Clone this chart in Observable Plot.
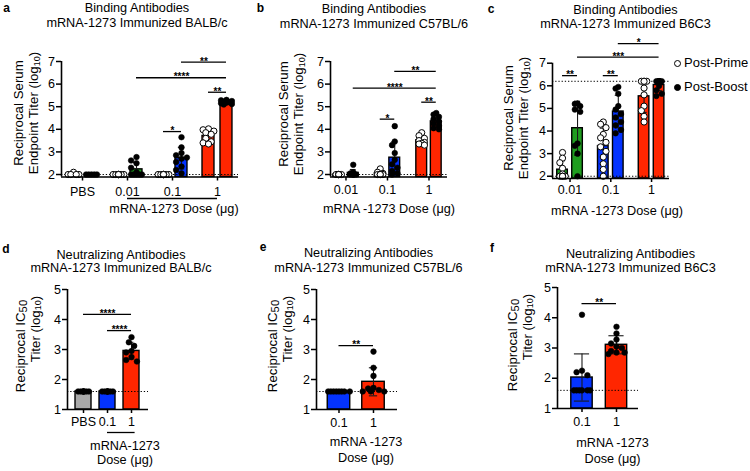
<!DOCTYPE html>
<html>
<head>
<meta charset="utf-8">
<script src="https://cdn.jsdelivr.net/npm/d3@7"></script>
<script src="https://cdn.jsdelivr.net/npm/@observablehq/plot@0.6"></script>
<style>
  html, body { margin: 0; padding: 0; background: #fff; }
  #fig { position: relative; width: 750px; height: 471px; background: #fff;
         font-family: "Liberation Sans", Arial, sans-serif; color: #000; overflow: hidden; }
  #fig div.t { position: absolute; white-space: nowrap; text-align: center; }
  .sub { font-size: 0.68em; vertical-align: -0.22em; line-height: 0; }
  .sub50 { font-size: 0.85em; vertical-align: -0.25em; line-height: 0; }
</style>
</head>
<body>
<div id="fig"></div>
<script>
// ---------------- DATA (log10 titers) ----------------
// Panel a: Binding antibodies, BALB/c
const aDoses = ["PBS", "0.01", "0.1", "1"];
const aPrime = [
  [2.1, 2.0, 2.0, 2.0, 2.0],
  [2.0, 2.0, 2.0, 2.0, 2.0, 2.0, 2.0, 2.0, 2.0, 2.0],
  [2.0, 2.0, 2.0, 2.0, 2.0, 2.0, 2.0, 2.0, 2.0, 2.0],
  [4.02, 3.98, 3.92, 3.85, 3.78, 3.6, 3.45, 3.4, 3.35]
];
const aBoost = [
  [2.0, 2.0, 2.0, 2.0, 2.0],
  [2.77, 2.62, 2.5, 2.3, 2.1, 2.0, 2.0, 2.0, 2.0, 2.0],
  [3.65, 3.2, 2.95, 2.85, 2.75, 2.7, 2.55, 2.35, 2.2, 2.05],
  [5.3, 5.28, 5.25, 5.22, 5.2, 5.18, 5.15, 5.12, 5.1]
];
const aSig = [
  { from: [2, "boost"], to: [3, "boost"], y: 6.97, p: "**" },
  { from: [1, "boost"], to: [3, "boost"], y: 6.28, p: "****" },
  { from: [3, "prime"], to: [3, "boost"], y: 5.64, p: "**" },
  { from: [2, "prime"], to: [2, "boost"], y: 3.9, p: "*" }
];

// Panel b: Binding antibodies, C57BL/6
const bDoses = ["0.01", "0.1", "1"];
const bPrime = [
  [2.0, 2.0, 2.0, 2.0, 2.0, 2.0, 2.0, 2.0],
  [2.25, 2.1, 2.05, 2.0, 2.0, 2.0, 2.0, 2.0],
  [3.85, 3.72, 3.6, 3.5, 3.42, 3.38, 3.35, 3.3]
];
const bBoost = [
  [2.43, 2.1, 2.05, 2.0, 2.0, 2.0, 2.0, 2.0],
  [4.14, 3.46, 3.3, 2.95, 2.65, 2.45, 2.3, 2.15, 2.05, 2.0],
  [4.72, 4.65, 4.55, 4.45, 4.35, 4.25, 4.15, 4.05, 4.0]
];
const bSig = [
  { from: [1, "boost"], to: [2, "boost"], y: 6.56, p: "**" },
  { from: [0, "boost"], to: [2, "boost"], y: 5.82, p: "****" },
  { from: [2, "prime"], to: [2, "boost"], y: 5.2, p: "**" },
  { from: [1, "prime"], to: [1, "boost"], y: 4.45, p: "*" }
];

// Panel c: Binding antibodies, B6C3
const cDoses = ["0.01", "0.1", "1"];
const cPrime = [
  [3.05, 2.8, 2.6, 2.35, 2.1, 2.0, 2.0, 2.0, 2.0, 2.0],
  [4.4, 4.3, 4.15, 3.85, 3.7, 3.5, 3.3, 3.1, 2.85, 2.55, 2.3, 2.0],
  [6.2, 6.2, 6.2, 6.2, 5.9, 5.6, 5.1, 4.9, 4.65, 4.4]
];
const cBoost = [
  [5.22, 5.2, 5.1, 4.95, 4.85, 3.45, 3.35, 3.0, 2.0],
  [5.95, 5.88, 5.65, 5.1, 4.95, 4.75, 4.6, 4.4, 4.25, 4.05, 3.9],
  [6.2, 6.2, 6.2, 6.2, 6.2, 6.2, 6.2, 6.0, 5.8, 5.65, 5.55]
];
const cSig = [
  { from: [1, "boost"], to: [2, "boost"], y: 7.87, p: "*" },
  { from: [0, "boost"], to: [2, "boost"], y: 7.27, p: "***" },
  { from: [0, "prime"], to: [0, "boost"], y: 6.45, p: "**" },
  { from: [1, "prime"], to: [1, "boost"], y: 6.45, p: "**" }
];

// Panels d-f: Neutralizing antibodies (reciprocal IC50, log10)
const dDoses = ["PBS", "0.1", "1"];
const dValues = [
  [1.6, 1.6, 1.6, 1.6, 1.6, 1.6, 1.6, 1.6],
  [1.6, 1.6, 1.6, 1.6, 1.6, 1.6, 1.6, 1.6],
  [3.41, 3.24, 3.12, 2.95, 2.9, 2.75, 2.65, 2.6]
];
const dSig = [
  { from: [0, "value"], to: [2, "value"], y: 4.17, p: "****" },
  { from: [1, "value"], to: [2, "value"], y: 3.63, p: "****" }
];

const eDoses = ["0.1", "1"];
const eValues = [
  [1.6, 1.6, 1.6, 1.6, 1.6, 1.6, 1.6, 1.6],
  [2.93, 2.39, 2.12, 1.72, 1.7, 1.65, 1.6, 1.6, 1.6]
];
const eSig = [{ from: [0, "value"], to: [1, "value"], y: 3.13, p: "**" }];

const fDoses = ["0.1", "1"];
const fValues = [
  [4.1, 2.25, 2.2, 2.1, 1.6, 1.6, 1.6, 1.6, 1.6, 1.6],
  [3.7, 3.48, 3.28, 3.15, 3.05, 3.0, 2.9, 2.85, 2.85, 2.8]
];
const fSig = [{ from: [0, "value"], to: [1, "value"], y: 4.47, p: "**" }];

const bindingTicks = [2, 3, 4, 5, 6, 7];
const neutTicks = [1, 2, 3, 4, 5];
const bindingLOD = [2.0];
const bindingULOD = [2.0, 6.2];
const neutLOD = [1.6];

// ---------------- STYLE ----------------
const GRAY = "#a9a9a9", GREEN = "#1f9d1f", BLUE = "#0433ff", RED = "#ff2600";
const TITLE = 12.7, YLAB = 13.3, XLAB = 12.7, TICK = 12.5, STAR = 10, LEG = 13, LETTER = 12;

// ---------------- HELPERS ----------------
const fig = document.getElementById("fig");
function addText(html, x, y, o = {}) {
  const d = document.createElement("div");
  d.className = "t";
  d.innerHTML = html;
  const tr = o.anchor === "start" ? "translate(0,-50%)" : "translate(-50%,-50%)";
  d.style.left = x + "px";
  d.style.top = y + "px";
  d.style.transform = tr + (o.rotate ? ` rotate(${o.rotate}deg)` : "");
  d.style.fontSize = (o.size || TITLE) + "px";
  d.style.lineHeight = (o.lh || 14) + "px";
  if (o.anchor === "start") d.style.textAlign = "left";
  if (o.weight) d.style.fontWeight = o.weight;
  fig.appendChild(d);
  return d;
}

function dodge(vals, pxY, maxOff, r) {
  const order = d3.range(vals.length).sort((i, j) => vals[j] - vals[i]);
  const step = r * 0.9;
  const cands = [0];
  for (let k = 1; k * step <= maxOff + 1e-6; k++) cands.push(-k * step, k * step);
  const placed = [];
  const off = new Array(vals.length).fill(0);
  for (const i of order) {
    const y = vals[i] * pxY;
    let best = 0, bestD = -1;
    for (const c of cands) {
      let md = Infinity;
      for (const p of placed) md = Math.min(md, Math.hypot(p[0] - c, p[1] - y));
      if (md >= 2 * r * 0.9 - 1e-6) { best = c; bestD = md; break; }
      if (md > bestD) { bestD = md; best = c; }
    }
    placed.push([best, y]);
    off[i] = best;
  }
  return off;
}

function makePanel(cfg) {
  const [rx, ry, rw, rh] = cfg.region;
  const [fl, ft, fr, fb] = cfg.frame;
  const [x0, x1] = cfg.xDomain;
  const [y0, y1] = cfg.yDomain;
  const pxX = (fr - fl) / (x1 - x0);
  const pxY = (fb - ft) / (y1 - y0);
  const offsets = { prime: -cfg.offset, boost: cfg.offset, value: 0 };
  const bars = [], errs = [], whitePts = [], blackPts = [];
  cfg.series.forEach(s => {
    s.values.forEach((vals, gi) => {
      const cx = gi + offsets[s.key];
      const m = d3.mean(vals);
      const sd = d3.deviation(vals) || 0;
      bars.push({ x1: cx - cfg.halfW, x2: cx + cfg.halfW, y1: y0, y2: m, fill: cfg.colors[gi] });
      if (sd > 0.01) {
        errs.push({ x: cx, lo: Math.max(y0, m - sd), hi: m + sd, c1: cx - cfg.capW, c2: cx + cfg.capW, lowCap: m - sd > y0 });
      }
      const offs = dodge(vals, pxY, cfg.halfW * pxX, 3);
      vals.forEach((v, i) => {
        const p = { x: cx + offs[i] / pxX, y: v };
        (s.dot === "white" ? whitePts : blackPts).push(p);
      });
    });
  });
  const sigRows = cfg.sig.map(s => {
    const xa = s.from[0] + offsets[s.from[1]];
    const xb = s.to[0] + offsets[s.to[1]];
    return { x1: xa, x2: xb, xm: (xa + xb) / 2, y: s.y, p: s.p };
  });
  const line = { stroke: "black", strokeWidth: 1.3 };
  const marks = [
    Plot.rect(bars, { x1: "x1", x2: "x2", y1: "y1", y2: "y2", fill: "fill", stroke: "black", strokeWidth: 1.4 }),
    Plot.ruleY(cfg.lod, { stroke: "black", strokeWidth: 1, strokeDasharray: "1.3,1.9" }),
    Plot.ruleX(errs, { x: "x", y1: "lo", y2: "hi", stroke: "#1a1a1a", strokeWidth: 1.1 }),
    Plot.ruleY(errs, { y: "hi", x1: "c1", x2: "c2", stroke: "#1a1a1a", strokeWidth: 1.1 }),
    Plot.ruleY(errs.filter(e => e.lowCap), { y: "lo", x1: "c1", x2: "c2", stroke: "#1a1a1a", strokeWidth: 1.1 }),
    Plot.dot(whitePts, { x: "x", y: "y", r: 3.1, fill: "white", stroke: "black", strokeWidth: 1 }),
    Plot.dot(blackPts, { x: "x", y: "y", r: 2.8, fill: "black", stroke: "black", strokeWidth: 0.6 }),
    Plot.ruleX([x0], { stroke: "black", strokeWidth: 1.6 }),
    Plot.ruleY([y0], { stroke: "black", strokeWidth: 1.6 }),
    Plot.ruleY(sigRows, { y: "y", x1: "x1", x2: "x2", ...line }),
    Plot.text(sigRows, { x: "xm", y: "y", text: "p", fontSize: STAR, fontWeight: "bold", lineAnchor: "bottom", dy: 2.5 }),
    Plot.axisX({ ticks: cfg.doses.map((_, i) => i), tickFormat: i => cfg.doses[i], tickSize: 4,
                 tickPadding: cfg.xTickPad, strokeWidth: 1.5, label: null, fontSize: TICK }),
    Plot.axisY({ ticks: cfg.yTicks, tickFormat: d3.format("d"), tickSize: 5, tickPadding: 1.5,
                 strokeWidth: 1.5, label: null, fontSize: TICK })
  ];
  if (cfg.bracket) {
    marks.push(Plot.ruleY([{ y: y0, x1: cfg.bracket[0], x2: cfg.bracket[1] }],
      { y: "y", x1: "x1", x2: "x2", dy: cfg.bracketDy, ...line }));
  }
  const svg = Plot.plot({
    width: rw, height: rh,
    marginLeft: fl - rx, marginRight: rx + rw - fr,
    marginTop: ft - ry, marginBottom: ry + rh - fb,
    x: { type: "linear", domain: cfg.xDomain },
    y: { type: "linear", domain: cfg.yDomain },
    color: { type: "identity" },
    style: { fontFamily: "Liberation Sans, Arial, sans-serif", fontSize: TICK + "px", color: "black",
             background: "none", overflow: "visible" },
    marks
  });
  svg.style.position = "absolute";
  svg.style.left = rx + "px";
  svg.style.top = ry + "px";
  fig.appendChild(svg);
}

// ---------------- PANELS ----------------
makePanel({
  region: [0, 0, 250, 230], frame: [61, 61, 238, 176.5],
  xDomain: [-0.467, 3.467], yDomain: [1.89, 7], yTicks: bindingTicks,
  offset: 0.2, halfW: 0.133, capW: 0.07, xTickPad: 6.5,
  doses: aDoses, colors: [GRAY, GREEN, BLUE, RED], lod: bindingLOD,
  series: [{ key: "prime", values: aPrime, dot: "white" }, { key: "boost", values: aBoost, dot: "black" }],
  sig: aSig, bracket: [1, 3], bracketDy: 21.5
});
makePanel({
  region: [250, 0, 230, 230], frame: [330, 61, 447, 176.5],
  xDomain: [-0.373, 2.446], yDomain: [1.89, 7], yTicks: bindingTicks,
  offset: 0.175, halfW: 0.13, capW: 0.07, xTickPad: 4.5,
  doses: bDoses, colors: [GREEN, BLUE, RED], lod: bindingLOD,
  series: [{ key: "prime", values: bPrime, dot: "white" }, { key: "boost", values: bBoost, dot: "black" }],
  sig: bSig
});
makePanel({
  region: [480, 0, 270, 230], frame: [552, 62.7, 669, 178],
  xDomain: [-0.43, 2.44], yDomain: [1.9, 7], yTicks: bindingTicks,
  offset: 0.184, halfW: 0.13, capW: 0.075, xTickPad: 3,
  doses: cDoses, colors: [GREEN, BLUE, RED], lod: bindingULOD,
  series: [{ key: "prime", values: cPrime, dot: "white" }, { key: "boost", values: cBoost, dot: "black" }],
  sig: cSig
});
makePanel({
  region: [0, 230, 250, 241], frame: [67, 289, 148, 409],
  xDomain: [-0.667, 2.708], yDomain: [1, 5], yTicks: neutTicks,
  offset: 0, halfW: 0.333, capW: 0.1, xTickPad: 4,
  doses: dDoses, colors: [GRAY, BLUE, RED], lod: neutLOD,
  series: [{ key: "value", values: dValues, dot: "black" }],
  sig: dSig, bracket: [1, 2.15], bracketDy: 23
});
makePanel({
  region: [250, 230, 230, 241], frame: [316, 289, 397, 409],
  xDomain: [-0.652, 1.696], yDomain: [1, 5], yTicks: neutTicks,
  offset: 0, halfW: 0.326, capW: 0.12, xTickPad: 5,
  doses: eDoses, colors: [BLUE, RED], lod: neutLOD,
  series: [{ key: "value", values: eValues, dot: "black" }],
  sig: eSig
});
makePanel({
  region: [480, 230, 270, 241], frame: [557, 287, 638, 408],
  xDomain: [-0.71, 1.638], yDomain: [1, 5], yTicks: neutTicks,
  offset: 0, halfW: 0.31, capW: 0.22, xTickPad: 5,
  doses: fDoses, colors: [BLUE, RED], lod: neutLOD,
  series: [{ key: "value", values: fValues, dot: "black" }],
  sig: fSig
});

// ---------------- TEXT ----------------
const log10 = '(log<span class="sub">10</span>)';
const ic50 = 'Reciprocal IC<span class="sub50">50</span>';
// panel letters
addText("a", 6.5, 8, { size: LETTER, weight: "bold" });
addText("b", 260.5, 8.3, { size: LETTER, weight: "bold" });
addText("c", 491, 8.5, { size: LETTER, weight: "bold" });
addText("d", 6, 249, { size: LETTER, weight: "bold" });
addText("e", 263, 247, { size: LETTER, weight: "bold" });
addText("f", 492, 248, { size: LETTER, weight: "bold" });
// titles (two lines each)
addText("Binding Antibodies<br>mRNA-1273 Immunized BALB/c", 137, 16, { lh: 15 });
addText("Binding Antibodies<br>mRNA-1273 Immunized C57BL/6", 374, 16.5, { lh: 15 });
addText("Binding Antibodies<br>mRNA-1273 Immunized B6C3", 625.5, 16.75, { lh: 14.5 });
addText("Neutralizing Antibodies<br>mRNA-1273 Immunized BALB/c", 121, 261.5, { lh: 13.5 });
addText("Neutralizing Antibodies<br>mRNA-1273 Immunized C57BL/6", 368.5, 260.25, { lh: 14.5 });
addText("Neutralizing Antibodies<br>mRNA-1273 Immunized B6C3", 630.5, 261.25, { lh: 13.5 });
// y labels
addText("Reciprocal Serum<br>Endpoint Titer " + log10, 25.5, 113, { rotate: -90, size: YLAB, lh: 15 });
addText("Reciprocal Serum<br>Endpoint Titer " + log10, 290.5, 114, { rotate: -90, size: YLAB, lh: 15 });
addText("Reciprocal Serum<br>Endpoint Titer " + log10, 515.5, 118, { rotate: -90, size: YLAB, lh: 15 });
addText(ic50, 20, 346, { rotate: -90, size: YLAB, lh: 13 });
addText("Titer " + log10, 35, 329, { rotate: -90, size: YLAB, lh: 13 });
addText(ic50, 272, 346, { rotate: -90, size: YLAB, lh: 13 });
addText("Titer " + log10, 287, 329, { rotate: -90, size: YLAB, lh: 13 });
addText(ic50, 512, 345, { rotate: -90, size: YLAB, lh: 13 });
addText("Titer " + log10, 527, 327, { rotate: -90, size: YLAB, lh: 13 });
// x labels
addText("mRNA-1273 Dose (μg)", 174, 209, { size: XLAB });
addText("mRNA -1273 Dose (μg)", 389, 209, { size: XLAB });
addText("mRNA -1273 Dose (μg)", 617, 211, { size: XLAB });
addText("mRNA-1273<br>Dose (μg)", 125, 453, { size: XLAB, lh: 14 });
addText("mRNA -1273<br>Dose (μg)", 366, 450.25, { size: XLAB, lh: 15.5 });
addText("mRNA -1273<br>Dose (μg)", 612.5, 451.25, { size: XLAB, lh: 15.5 });
// legend (panel c)
function legendDot(x, y, fill) {
  const d = document.createElement("div");
  Object.assign(d.style, { position: "absolute", left: (x - 3.5) + "px", top: (y - 3.5) + "px", width: "5.5px",
    height: "5.5px", borderRadius: "50%", border: "1px solid black", background: fill });
  fig.appendChild(d);
}
legendDot(677, 63, "white");
addText("Post-Prime", 684, 63, { anchor: "start", size: LEG });
legendDot(677, 87, "black");
addText("Post-Boost", 684, 87, { anchor: "start", size: LEG });
</script>
</body>
</html>
